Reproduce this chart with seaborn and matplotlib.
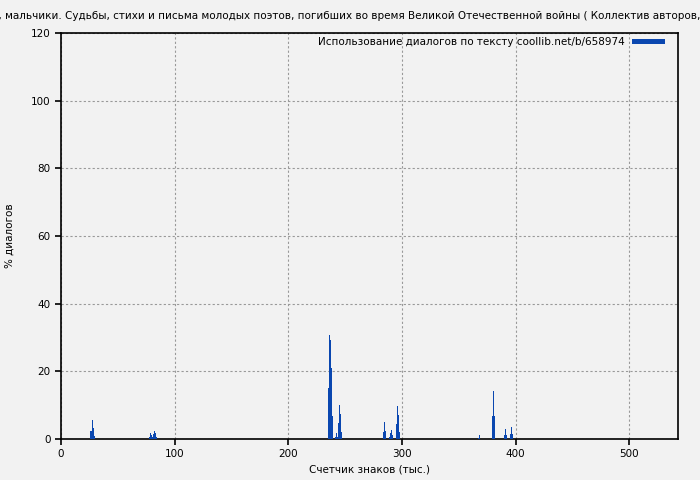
import matplotlib
matplotlib.use("Agg")
import matplotlib.pyplot as plt
import seaborn as sns
import pandas as pd

# позиции (тыс. знаков) и доля диалогов (%)
pos_1 = [26.4, 27.3, 28.2, 29.0, 29.9]
val_1 = [2.4, 5.6, 3.3, 2.1, 0.9]

pos_2 = [77.8, 78.7, 79.6, 80.5, 81.3, 82.2, 83.1, 84.0]
val_2 = [0.6, 1.8, 1.2, 0.6, 1.5, 2.4, 1.8, 0.6]

pos_3 = [235.0, 235.9, 236.8, 237.7, 238.6, 241.2, 242.1, 243.0, 243.8, 244.7, 245.6, 246.5]
val_3 = [15.0, 30.7, 29.3, 21.0, 6.8, 0.6, 1.8, 0.6, 4.7, 10.0, 7.4, 2.0]

pos_4 = [283.5, 284.3, 285.2, 288.7, 289.6, 290.5, 291.4, 294.9, 295.8, 296.7, 297.5]
val_4 = [2.0, 5.0, 2.4, 0.5, 1.8, 2.7, 1.2, 4.4, 9.8, 7.1, 2.0]

pos_5 = [367.0, 367.9, 379.4, 380.3, 381.2, 390.0, 390.8, 391.7, 395.2, 396.1, 397.0]
val_5 = [0.3, 1.2, 6.8, 14.2, 6.8, 1.2, 3.0, 1.2, 1.5, 3.5, 1.5]

df = pd.DataFrame({
    "pos": pos_1 + pos_2 + pos_3 + pos_4 + pos_5,
    "val": val_1 + val_2 + val_3 + val_4 + val_5,
})

title = ("Мальчики, мальчики. Судьбы, стихи и письма молодых поэтов, погибших во время "
         "Великой Отечественной войны ( Коллектив авторов, 2015 )")
legend_label = "Использование диалогов по тексту coollib.net/b/658974"
bar_color = "#0a47b0"
bg = "#f2f2f2"

sns.set_style("ticks")
plt.rcParams["font.family"] = ["DejaVu Sans"]
plt.rcParams["text.color"] = "black"
plt.rcParams["axes.labelcolor"] = "black"

fig = plt.figure(figsize=(7, 4.8), dpi=100, facecolor=bg)
ax = fig.add_axes([61 / 700, 1 - 439 / 480, 617 / 700, 406 / 480])
ax.set_facecolor(bg)

ax.bar(df["pos"], df["val"], width=0.9, color=bar_color, linewidth=0, label=legend_label, zorder=3)

ax.set_xlim(0, 543)
ax.set_ylim(0, 120)
ax.set_xticks([0, 100, 200, 300, 400, 500])
ax.set_yticks([0, 20, 40, 60, 80, 100, 120])
ax.grid(True, linestyle=(0, (2, 2)), color="#999999", linewidth=0.8, zorder=0)
for s in ax.spines.values():
    s.set_color("black")
    s.set_linewidth(1.2)
ax.tick_params(direction="out", length=4, width=1.2, labelsize=7.5, colors="black")

ax.set_xlabel("Счетчик знаков (тыс.)", fontsize=7.5)
ax.set_ylabel("% диалогов", fontsize=7.5, labelpad=12)

# заголовок шире картинки, обрезается по краям как в оригинале
fig.text(0.5 - 9 / 700, 1 - 16 / 480, title, ha="center", va="center", fontsize=7.5)

leg = ax.legend(loc="upper right", bbox_to_anchor=(1 - 9 / 617, 1.0), frameon=False,
                fontsize=7.5, handlelength=3.2, handleheight=0.35, handletextpad=0.6,
                borderaxespad=0, markerfirst=False)

fig.savefig("out.png", dpi=100, facecolor=bg)
